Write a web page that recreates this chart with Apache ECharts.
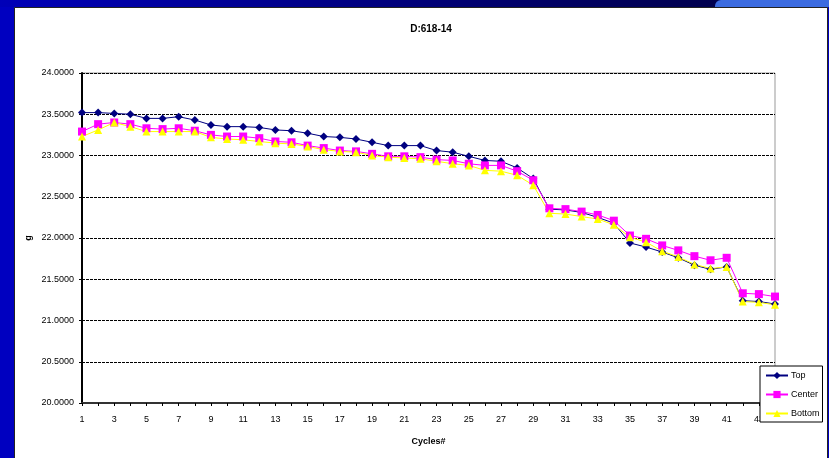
<!DOCTYPE html>
<html>
<head>
<meta charset="UTF-8">
<title>D:618-14</title>
<script src="https://cdn.jsdelivr.net/npm/echarts@6/dist/echarts.min.js"></script>
<style>
  html, body { margin: 0; padding: 0; background: #0000c0; }
  #main { width: 829px; height: 458px; }
</style>
</head>
<body>
<div id="main"></div>
<script>
// cycle numbers 1..44
var cycles = [];
for (var c = 1; c <= 44; c++) cycles.push(String(c));

var topVals = [23.52, 23.52, 23.51, 23.50, 23.45, 23.45, 23.47, 23.43, 23.37, 23.35, 23.35,
  23.34, 23.31, 23.30, 23.27, 23.23, 23.22, 23.20, 23.16, 23.12, 23.12, 23.12,
  23.06, 23.04, 22.99, 22.94, 22.93, 22.85, 22.72, 22.35, 22.34, 22.31, 22.25,
  22.18, 21.94, 21.89, 21.83, 21.76, 21.67, 21.62, 21.65, 21.24, 21.23, 21.20];

var centerVals = [23.29, 23.38, 23.40, 23.38, 23.33, 23.32, 23.33, 23.30, 23.25, 23.23, 23.23,
  23.21, 23.17, 23.16, 23.12, 23.09, 23.06, 23.05, 23.02, 22.99, 22.99, 22.98,
  22.95, 22.94, 22.90, 22.88, 22.88, 22.81, 22.70, 22.36, 22.35, 22.32, 22.28,
  22.21, 22.03, 21.99, 21.91, 21.85, 21.78, 21.73, 21.76, 21.33, 21.32, 21.29];

var bottomVals = [23.23, 23.31, 23.40, 23.35, 23.29, 23.29, 23.29, 23.29, 23.22, 23.20, 23.19,
  23.17, 23.15, 23.14, 23.11, 23.07, 23.05, 23.04, 23.00, 22.98, 22.97, 22.96,
  22.93, 22.90, 22.88, 22.82, 22.81, 22.76, 22.64, 22.30, 22.29, 22.26, 22.23,
  22.16, 22.01, 21.95, 21.84, 21.77, 21.68, 21.63, 21.65, 21.23, 21.22, 21.19];

var chart = echarts.init(document.getElementById('main'));

var font = 'Arial, "Liberation Sans", sans-serif';

option = {
  animation: false,
  backgroundColor: 'transparent',
  textStyle: { fontFamily: font },
  graphic: [
    // slide decoration behind the chart
    { type: 'rect', z: -10, shape: { x: 0, y: 0, width: 829, height: 458 },
      style: { fill: '#0000c0' } },
    { type: 'rect', z: -9, shape: { x: 0, y: 0, width: 829, height: 7 },
      style: { fill: new echarts.graphic.LinearGradient(0, 0, 1, 0, [
        { offset: 0, color: '#0000b8' }, { offset: 0.7, color: '#000060' }, { offset: 1, color: '#000040' }]) } },
    { type: 'rect', z: -8, shape: { x: 715, y: 0, width: 130, height: 7, r: [6, 0, 0, 0] },
      style: { fill: '#3b6be0' } },
    { type: 'rect', z: -7, shape: { x: 14.5, y: 7.5, width: 813, height: 460 },
      style: { fill: '#ffffff', stroke: '#222', lineWidth: 1 } }
  ],
  title: {
    text: 'D:618-14',
    left: 426,
    top: 19,
    textAlign: 'center',
    textStyle: { fontSize: 10, fontWeight: 'bold', color: '#000', fontFamily: font }
  },
  legend: {
    orient: 'vertical',
    left: 760,
    top: 366,
    backgroundColor: '#fff',
    borderColor: '#000',
    borderWidth: 1,
    borderRadius: 0,
    padding: [5, 3, 4, 5],
    itemWidth: 22,
    itemHeight: 9,
    itemGap: 10,
    textStyle: { fontSize: 9, color: '#000', fontFamily: font, padding: [0, 0, 0, -2] },
    data: ['Top', 'Center', 'Bottom']
  },
  grid: {
    left: 82, right: 54, top: 73, bottom: 55,
    show: true,
    borderColor: '#999',
    borderWidth: 1
  },
  xAxis: {
    type: 'category',
    data: cycles,
    boundaryGap: false,
    name: 'Cycles#',
    nameLocation: 'middle',
    nameGap: 34,
    nameTextStyle: { fontSize: 9, fontWeight: 'bold', color: '#000' },
    axisLine: { lineStyle: { color: '#333', width: 2 } },
    axisTick: { interval: 0, length: 3, lineStyle: { color: '#000' } },
    axisLabel: { interval: 1, fontSize: 9, color: '#000', margin: 12 },
    splitLine: { show: false }
  },
  yAxis: {
    type: 'value',
    min: 20,
    max: 24,
    interval: 0.5,
    name: 'g',
    nameLocation: 'middle',
    nameGap: 49,
    nameMoveOverlap: false,
    nameRotate: 90,
    nameTextStyle: { fontSize: 9, fontWeight: 'bold', color: '#000' },
    axisLine: { show: true, lineStyle: { color: '#000', width: 2 } },
    axisTick: { show: true, length: 3, lineStyle: { color: '#000' } },
    axisLabel: {
      fontSize: 9, color: '#000', margin: 8,
      formatter: function (v) { return v.toFixed(4); }
    },
    splitLine: { lineStyle: { color: '#000', type: [3, 1], width: 1 } }
  },
  series: [
    {
      name: 'Top', type: 'line', data: topVals,
      symbol: 'diamond', symbolSize: 8,
      itemStyle: { color: '#000080' },
      lineStyle: { color: '#000080', width: 1 }
    },
    {
      name: 'Center', type: 'line', data: centerVals,
      symbol: 'rect', symbolSize: 8,
      itemStyle: { color: '#ff00ff' },
      lineStyle: { color: '#ff00ff', width: 1 }
    },
    {
      name: 'Bottom', type: 'line', data: bottomVals,
      symbol: 'triangle', symbolSize: 8,
      itemStyle: { color: '#ffff00' },
      lineStyle: { color: '#ffff00', width: 1 }
    }
  ]
};

chart.setOption(option);
</script>
</body>
</html>
